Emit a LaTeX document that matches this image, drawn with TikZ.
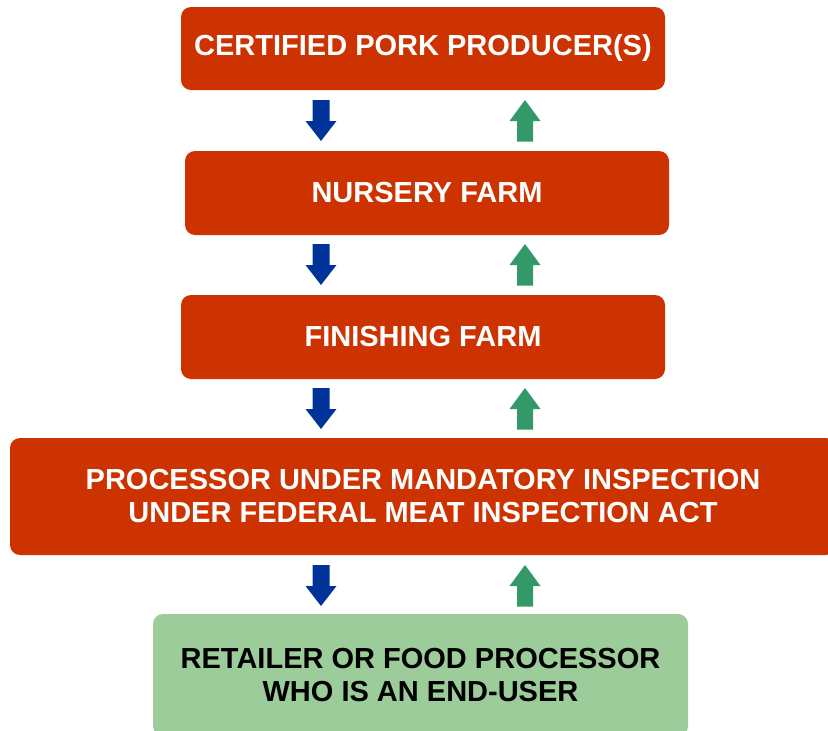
\documentclass[tikz,border=0pt]{standalone}
\usepackage{fontspec}
\setmainfont{Liberation Sans}
\definecolor{boxred}{HTML}{CC3300}
\definecolor{boxgreen}{HTML}{9CCC99}
\definecolor{arrblue}{HTML}{003399}
\definecolor{arrgreen}{HTML}{339966}
\newcommand\blkdown[3]{\fill[arrblue] (#1-8.5,#2) -- (#1+8.5,#2) -- (#1+8.5,#2+21) -- (#1+15.5,#2+21) -- (#1,#3) -- (#1-15.5,#2+21) -- (#1-8.5,#2+21) -- cycle;}
\newcommand\blkup[3]{\fill[arrgreen] (#1-8,#3) -- (#1+8,#3) -- (#1+8,#2+21) -- (#1+15.5,#2+21) -- (#1,#2) -- (#1-15.5,#2+21) -- (#1-8,#2+21) -- cycle;}
\begin{document}
\begin{tikzpicture}[x=1pt,y=-1pt,
  stage/.style={fill=boxred, rounded corners=10pt, text=white, font=\bfseries\fontsize{29}{33}\selectfont, align=center, inner sep=0pt},
  endstage/.style={stage, fill=boxgreen, text=black}]
\useasboundingbox (0,0) rectangle (828,731);
\node[stage, minimum width=484pt, minimum height=83pt] (b1) at (423,48.5) {CERTIFIED PORK PRODUCER(S)};
\node[stage, minimum width=484pt, minimum height=84pt] (b2) at (427,193) {NURSERY FARM};
\node[stage, minimum width=484pt, minimum height=84pt] (b3) at (423,337) {FINISHING FARM};
\node[stage, minimum width=826pt, minimum height=117pt] (b4) at (423,496.5) {PROCESSOR UNDER MANDATORY INSPECTION\\UNDER FEDERAL MEAT INSPECTION ACT};
\node[endstage, minimum width=535pt, minimum height=122pt] (b5) at (420.5,675) {RETAILER OR FOOD PROCESSOR\\WHO IS AN END-USER};
\blkdown{321}{100}{141}
\blkup{525}{100}{141.5}
\blkdown{321}{244}{285}
\blkup{525}{244}{285.5}
\blkdown{321}{388}{429}
\blkup{525}{388}{429.5}
\blkdown{321}{565}{606}
\blkup{525}{565}{606.5}
\end{tikzpicture}
\end{document}
